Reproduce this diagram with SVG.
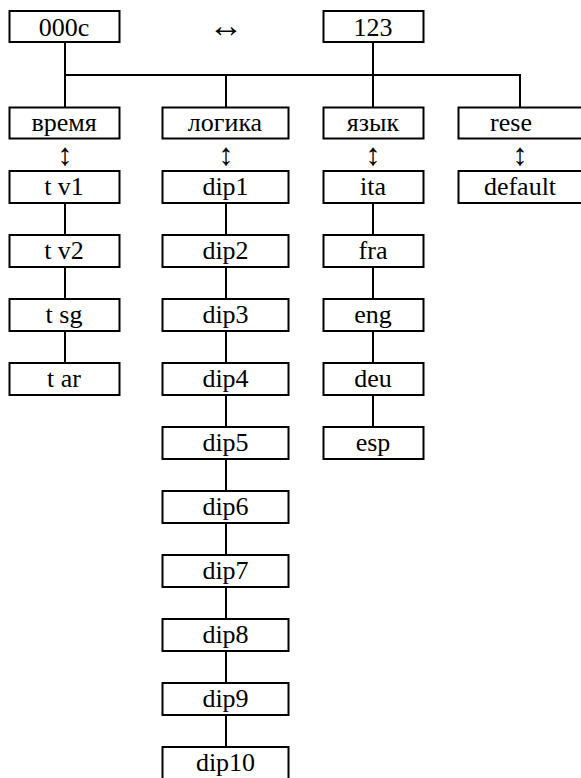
<svg xmlns="http://www.w3.org/2000/svg" width="581" height="778" viewBox="0 0 581 778">
<style>
rect{fill:#fff;stroke:#000;stroke-width:2}
.c line{stroke:#000;stroke-width:2}
</style>
<rect x="0" y="0" width="581" height="778" style="stroke:none"/>
<g font-family="'Liberation Serif','Times New Roman',serif" font-size="26" fill="#000" text-anchor="middle">
<g id="connectors" class="c">
<line x1="65" y1="42" x2="65" y2="107"/>
<line x1="64" y1="75" x2="521" y2="75"/>
<line x1="226" y1="75" x2="226" y2="107"/>
<line x1="373" y1="42" x2="373" y2="107"/>
<line x1="520" y1="74" x2="520" y2="107"/>
<line x1="65" y1="203" x2="65" y2="235"/>
<line x1="65" y1="267" x2="65" y2="299"/>
<line x1="65" y1="331" x2="65" y2="363"/>
<line x1="226" y1="203" x2="226" y2="235"/>
<line x1="226" y1="267" x2="226" y2="299"/>
<line x1="226" y1="331" x2="226" y2="363"/>
<line x1="226" y1="395" x2="226" y2="427"/>
<line x1="226" y1="459" x2="226" y2="491"/>
<line x1="226" y1="523" x2="226" y2="555"/>
<line x1="226" y1="587" x2="226" y2="619"/>
<line x1="226" y1="651" x2="226" y2="683"/>
<line x1="226" y1="715" x2="226" y2="747"/>
<line x1="373" y1="203" x2="373" y2="235"/>
<line x1="373" y1="267" x2="373" y2="299"/>
<line x1="373" y1="331" x2="373" y2="363"/>
<line x1="373" y1="395" x2="373" y2="427"/>
<g font-size="31">
<text x="65" y="165">↕</text>
<text x="226" y="165">↕</text>
<text x="373" y="165">↕</text>
<text x="520" y="165">↕</text>
</g>
<text x="226" y="37" font-size="35">↔</text>
</g>
<g id="n000c"><rect x="9.5" y="11" width="110" height="31"/><text x="64" y="35.5">000c</text></g>
<g id="n123"><rect x="323.5" y="11" width="100" height="31"/><text x="373" y="35.5">123</text></g>
<g id="vremya"><rect x="9.5" y="107.5" width="110" height="31"/><text x="64" y="131">время</text></g>
<g id="logika"><rect x="162.5" y="107.5" width="126" height="31"/><text x="225" y="131">логика</text></g>
<g id="yazyk"><rect x="323.5" y="107.5" width="100" height="31"/><text x="373" y="131">язык</text></g>
<g id="rese"><rect x="458.5" y="107.5" width="124" height="31"/><text x="511" y="131">rese</text></g>
<g id="tv1"><rect x="9.5" y="171" width="110" height="32"/><text x="64" y="194.5">t v1</text></g>
<g id="tv2"><rect x="9.5" y="235" width="110" height="32"/><text x="64" y="258.5">t v2</text></g>
<g id="tsg"><rect x="9.5" y="299" width="110" height="32"/><text x="64" y="322.5">t sg</text></g>
<g id="tar"><rect x="9.5" y="363" width="110" height="32"/><text x="64" y="386.5">t ar</text></g>
<g id="dip1"><rect x="162.5" y="171" width="126" height="32"/><text x="225.5" y="194.5">dip1</text></g>
<g id="dip2"><rect x="162.5" y="235" width="126" height="32"/><text x="225.5" y="258.5">dip2</text></g>
<g id="dip3"><rect x="162.5" y="299" width="126" height="32"/><text x="225.5" y="322.5">dip3</text></g>
<g id="dip4"><rect x="162.5" y="363" width="126" height="32"/><text x="225.5" y="386.5">dip4</text></g>
<g id="dip5"><rect x="162.5" y="427" width="126" height="32"/><text x="225.5" y="450.5">dip5</text></g>
<g id="dip6"><rect x="162.5" y="491" width="126" height="32"/><text x="225.5" y="514.5">dip6</text></g>
<g id="dip7"><rect x="162.5" y="555" width="126" height="32"/><text x="225.5" y="578.5">dip7</text></g>
<g id="dip8"><rect x="162.5" y="619" width="126" height="32"/><text x="225.5" y="642.5">dip8</text></g>
<g id="dip9"><rect x="162.5" y="683" width="126" height="32"/><text x="225.5" y="706.5">dip9</text></g>
<g id="dip10"><rect x="162.5" y="747" width="126" height="32"/><text x="225.5" y="770.5">dip10</text></g>
<g id="ita"><rect x="323.5" y="171" width="100" height="32"/><text x="373" y="194.5">ita</text></g>
<g id="fra"><rect x="323.5" y="235" width="100" height="32"/><text x="373" y="258.5">fra</text></g>
<g id="eng"><rect x="323.5" y="299" width="100" height="32"/><text x="373" y="322.5">eng</text></g>
<g id="deu"><rect x="323.5" y="363" width="100" height="32"/><text x="373" y="386.5">deu</text></g>
<g id="esp"><rect x="323.5" y="427" width="100" height="32"/><text x="373" y="450.5">esp</text></g>
<g id="default"><rect x="458.5" y="171" width="124" height="32"/><text x="520" y="194.5">default</text></g>
</g>
</svg>
